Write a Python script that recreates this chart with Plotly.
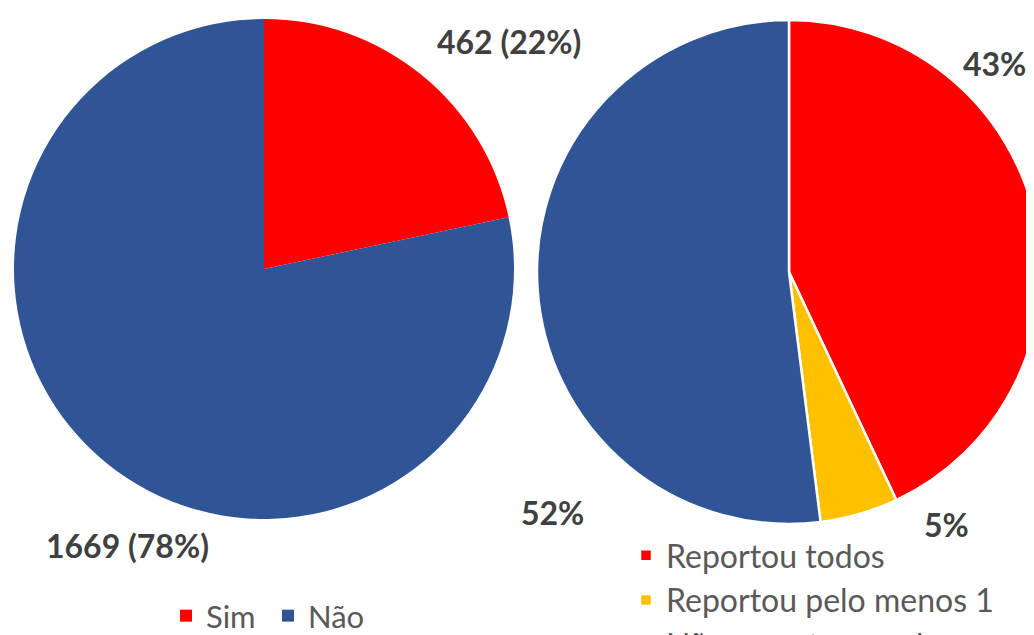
import plotly.graph_objects as go

# Left pie data
left_labels = ["Sim", "Não"]
left_values = [462, 1669]
left_colors = ["#FF0000", "#2F5597"]

# Right pie data (percent)
right_labels = ["Reportou todos", "Reportou pelo menos 1", "Não reportou nenhum"]
right_values = [43, 5, 52]
right_colors = ["#FF0000", "#FFC000", "#2F5597"]

# The page body has an 8px margin; figure is slightly larger than the window so
# the right pie and the last legend row are clipped like the reference.
OFF = 8
W, H = 1050, 660
FONT = "Lato"

def px_x(a):  # window x -> paper fraction
    return (a - OFF) / W

def px_y(b):  # window y (from top) -> paper fraction
    return 1 - (b - OFF) / H

fig = go.Figure()
fig.add_trace(go.Pie(
    labels=left_labels, values=left_values, sort=False, direction="clockwise",
    rotation=0, marker=dict(colors=left_colors, line=dict(width=0)),
    textinfo="none", hoverinfo="label+value+percent",
    domain=dict(x=[px_x(14), px_x(514)], y=[px_y(519), px_y(19)]),
    legend="legend", showlegend=True,
))
fig.add_trace(go.Pie(
    labels=right_labels, values=right_values, sort=False, direction="clockwise",
    rotation=0, marker=dict(colors=right_colors, line=dict(width=2.5, color="white")),
    textinfo="none", hoverinfo="label+percent",
    domain=dict(x=[px_x(537), px_x(1041)], y=[px_y(524), px_y(20)]),
    legend="legend2", showlegend=True,
))

tot_l = sum(left_values)
tot_r = sum(right_values)
left_text = [f"{v} ({round(100*v/tot_l)}%)" for v in left_values]
right_text = [f"{round(100*v/tot_r)}%" for v in right_values]

left_pos = [(509, 41), (127, 545)]
right_pos = [(994, 63), (946, 524), (552, 512)]

annos = []
for t, (x, y) in zip(left_text + right_text, left_pos + right_pos):
    annos.append(dict(text=f"<b>{t}</b>", x=px_x(x), y=px_y(y), xref="paper", yref="paper",
                      xanchor="center", yanchor="middle", showarrow=False,
                      font=dict(family=FONT, size=32, color="#404040")))

fig.update_layout(
    width=W, height=H,
    margin=dict(l=0, r=0, t=0, b=0, autoexpand=False),
    paper_bgcolor="white", plot_bgcolor="white",
    annotations=annos,
    legend=dict(orientation="h", x=px_x(268), xanchor="center", y=px_y(616), yanchor="middle",
                entrywidth=57,
                font=dict(family=FONT, size=31, color="#595959"), bgcolor="rgba(0,0,0,0)"),
    legend2=dict(orientation="v", x=px_x(626), xanchor="left", y=px_y(528), yanchor="top",
                 font=dict(family=FONT, size=32, color="#595959"), bgcolor="rgba(0,0,0,0)"),
)

fig.write_html("out.html")
